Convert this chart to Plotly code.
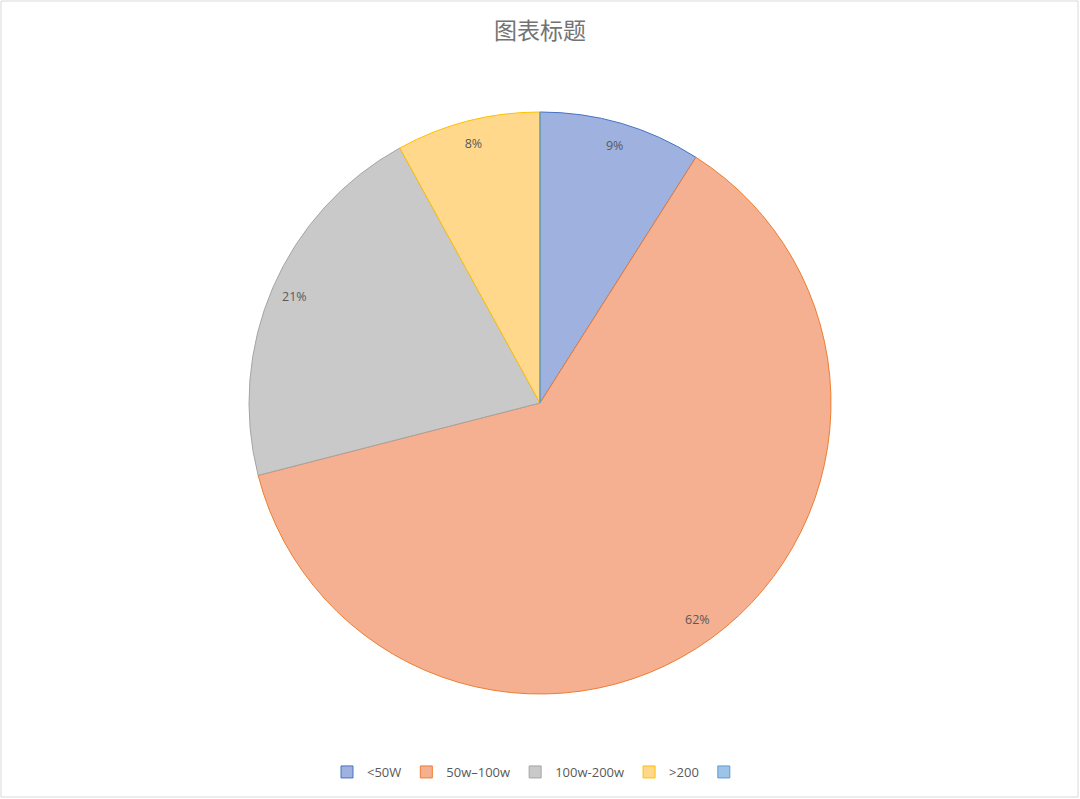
import plotly.graph_objects as go

# slice data
labels = ["<50W", "50w–100w", "100w-200w", ">200", " "]
shares = [9, 62, 21, 8, 0]

fill_colors = ["#9fb2df", "#f5b092", "#c9c9c9", "#ffd88c", "#9dc3e6"]
edge_colors = ["#4472c4", "#ed7d31", "#a5a5a5", "#ffc000", "#5b9bd5"]

W, H = 1080, 799
M = dict(l=249, r=249, t=112, b=105)
TEXT = "#595959"


def main():
    fig = go.Figure()

    # the filled pie, with the legend
    fig.add_trace(go.Pie(
        labels=labels, values=shares, sort=False, direction="clockwise",
        rotation=0, textinfo="none", hoverinfo="label+percent",
        marker=dict(colors=fill_colors, line=dict(color=edge_colors, width=1)),
    ))

    # transparent ring on top, only to put the percentages near the rim
    fig.add_trace(go.Pie(
        labels=labels[:4], values=shares[:4], sort=False, direction="clockwise",
        rotation=0, hole=0.84, textinfo="percent", textposition="inside",
        insidetextorientation="horizontal", showlegend=False, hoverinfo="skip",
        textfont=dict(family="Open Sans, sans-serif", size=12.5, color=TEXT),
        marker=dict(colors=["rgba(0,0,0,0)"] * 4, line=dict(width=0)),
    ))

    pw = W - M["l"] - M["r"]
    ph = H - M["t"] - M["b"]
    fig.add_shape(
        type="rect", xref="paper", yref="paper", layer="below",
        x0=-(M["l"] - 1) / pw, x1=1 + (M["r"] - 2) / pw,
        y0=-(M["b"] - 2) / ph, y1=1 + (M["t"] - 1) / ph,
        line=dict(color="#d9d9d9", width=1),
    )

    fig.update_layout(
        width=W, height=H, margin=M,
        paper_bgcolor="white", plot_bgcolor="white",
        title=dict(text="图表标题", x=0.5, xanchor="center", y=1 - 31 / H,
                   yanchor="middle",
                   font=dict(family="Noto Sans CJK SC", size=23, color="#737373")),
        legend=dict(orientation="h", x=0.5, xanchor="center", y=-78 / ph,
                    yanchor="middle", traceorder="normal",
                    font=dict(family="Open Sans, sans-serif", size=13, color=TEXT),
                    itemwidth=30),
        showlegend=True,
    )

    # drop the browser's default body margin so the figure sits at 0,0
    fig.write_html("out.html", config={"displayModeBar": False},
                   post_script="document.body.style.margin='0';")


if __name__ == "__main__":
    main()
